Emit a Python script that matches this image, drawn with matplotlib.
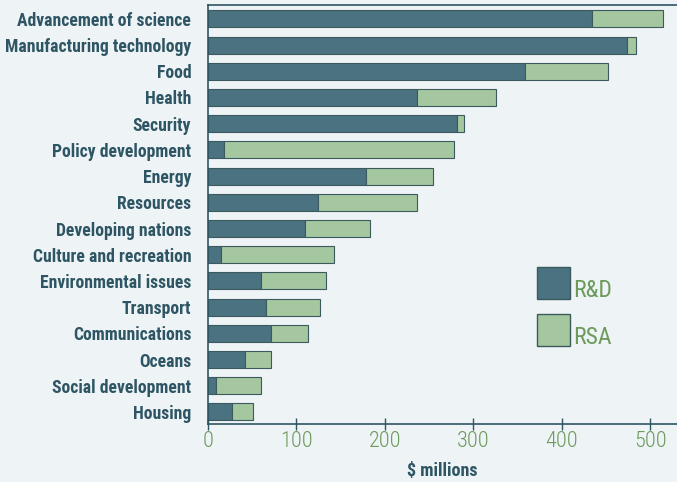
import matplotlib.pyplot as plt
from matplotlib.patches import Rectangle

categories = ["Advancement of science", "Manufacturing technology", "Food", "Health",
              "Security", "Policy development", "Energy", "Resources",
              "Developing nations", "Culture and recreation", "Environmental issues",
              "Transport", "Communications", "Oceans", "Social development", "Housing"]
rd = [434, 473, 358, 236, 281, 18, 178, 124, 110, 15, 60, 65, 71, 42, 9, 27]
total = [514, 484, 452, 325, 289, 278, 254, 236, 183, 142, 133, 127, 113, 71, 60, 51]
rsa = [t - r for t, r in zip(total, rd)]
xticks = [0, 100, 200, 300, 400, 500]
series = ["R&D", "RSA"]

bg = "#eef3f6"
dark = "#4a7281"
light = "#a4c79f"
edge = "#3a5a5e"
txt = "#2e5563"
green = "#6c9a5c"
fam = ["Roboto Condensed", "Roboto", "DejaVu Sans"]

W, H = 677, 482
fig = plt.figure(figsize=(6.77, 4.82), dpi=100, facecolor=bg)
ax = fig.add_axes([208 / W, 1 - 424 / H, (W - 208) / W, (424 - 5) / H])
ax.set_facecolor(bg)

y = list(range(len(categories)))
ax.barh(y, rd, height=0.65, color=dark, edgecolor=edge, linewidth=0.8)
ax.barh(y, rsa, left=rd, height=0.65, color=light, edgecolor=edge, linewidth=0.8)

ax.set_ylim(15.46, -0.53)
ax.set_xlim(0, 530)
ax.set_yticks(y)
ax.set_yticklabels(categories, family=fam, fontweight="bold", fontsize=12.7, color=txt)
ax.tick_params(axis="y", length=0, pad=12)
ax.set_xticks(xticks)
ax.set_xticklabels([str(v) for v in xticks], family=fam, fontweight="light", fontsize=16, color=green)
ax.tick_params(axis="x", direction="inout", length=8, width=1, color=txt, pad=1)

for s in ["left", "bottom", "top"]:
    ax.spines[s].set_color(txt)
    ax.spines[s].set_linewidth(1.2)
ax.spines["right"].set_visible(False)

ax.set_xlabel("$ millions", family=fam, fontweight="bold", fontsize=13, color=txt, labelpad=7)

# legend drawn by hand: tall boxes with text sitting at their bottom
for i, (name, col) in enumerate(zip(series, [dark, light])):
    top = 267 + i * 47
    fig.add_artist(Rectangle((537 / W, 1 - (top + 32) / H), 33 / W, 32 / H,
                             transform=fig.transFigure, facecolor=col, edgecolor=edge, linewidth=1))
    fig.text(573 / W, 1 - (top + 30) / H, name, family=fam, fontsize=17, color=green, va="baseline")

fig.savefig("out.png", dpi=100, facecolor=bg)
